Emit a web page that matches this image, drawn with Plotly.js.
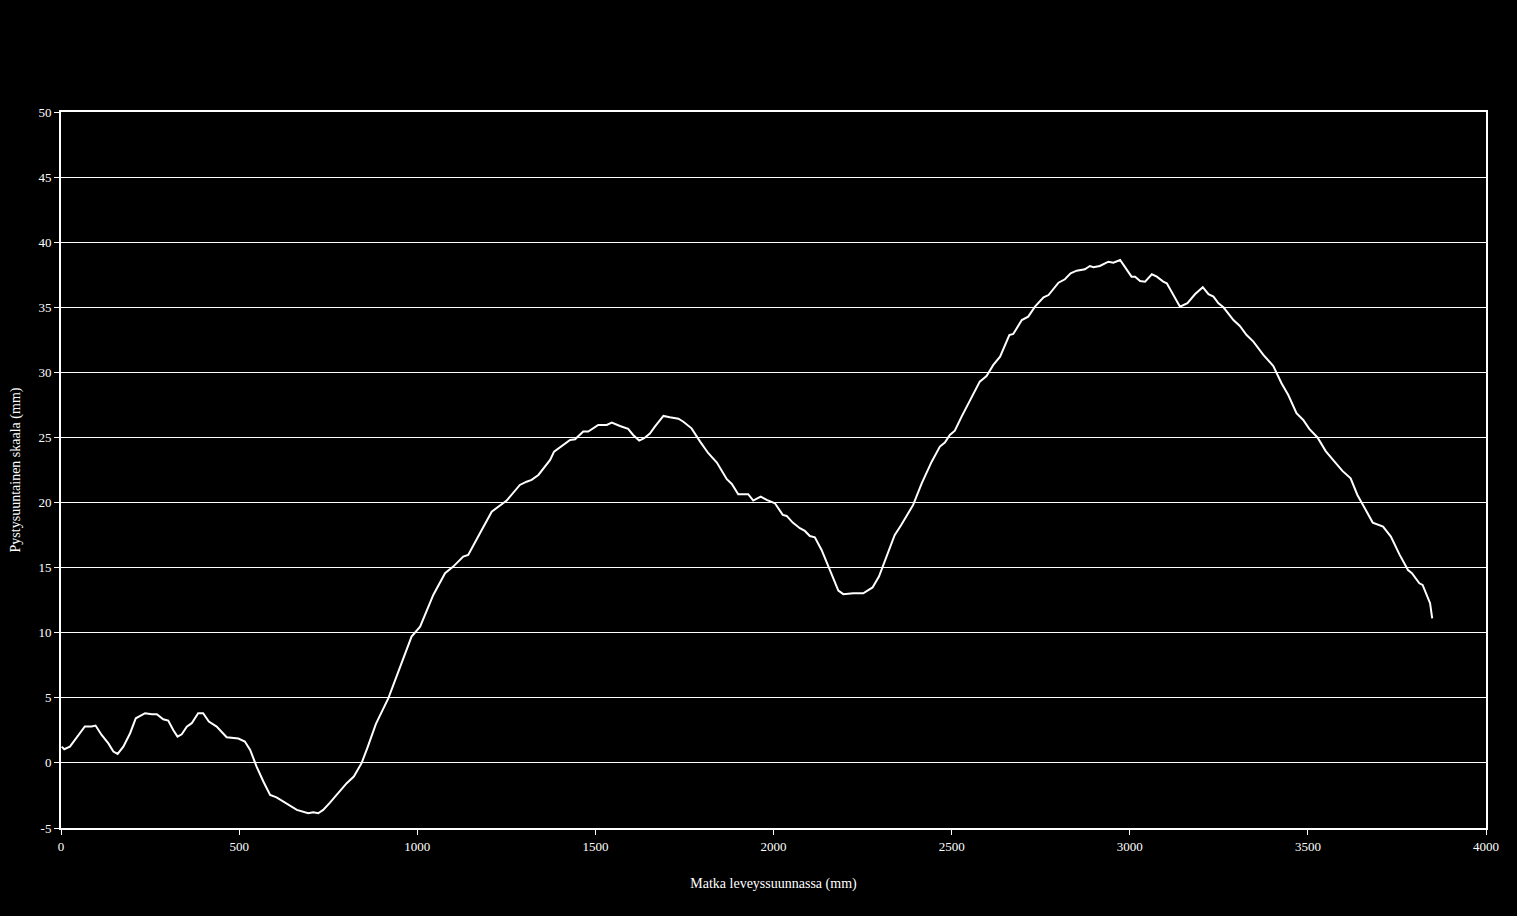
<!DOCTYPE html>
<html>
<head>
<meta charset="utf-8">
<script src="https://cdn.plot.ly/plotly-3.0.1.min.js"></script>
<style>html,body{margin:0;padding:0;background:#000;}#chart{width:1517px;height:916px;}</style>
</head>
<body>
<div id="chart"></div>
<script>
const distanceMm = [2,9,25,49,67,86,97,114,133,147,159,175,194,210,236,255,269,287,301,315,327,339,353,367,385,399,415,437,465,498,516,531,549,568,587,605,638,662,694,708,722,736,755,783,802,822,844,860,884,919,952,984,1008,1045,1078,1101,1129,1143,1176,1209,1251,1288,1307,1321,1340,1373,1384,1405,1429,1443,1466,1480,1508,1532,1546,1569,1592,1606,1623,1637,1653,1667,1691,1709,1733,1747,1770,1794,1817,1841,1869,1883,1901,1929,1943,1964,1981,2004,2026,2037,2054,2074,2088,2102,2116,2135,2159,2182,2196,2224,2252,2264,2278,2296,2320,2340,2358,2392,2416,2444,2467,2481,2495,2509,2528,2552,2579,2598,2617,2636,2662,2673,2697,2715,2734,2758,2772,2800,2818,2834,2851,2874,2888,2898,2916,2940,2954,2973,2991,3005,3015,3029,3043,3062,3076,3094,3104,3122,3141,3162,3183,3205,3221,3235,3249,3263,3291,3309,3328,3347,3375,3403,3412,3426,3445,3468,3487,3504,3527,3550,3573,3597,3620,3639,3657,3682,3711,3733,3757,3781,3792,3813,3822,3831,3843,3849];
const heightMm = [1.25,1.05,1.25,2.15,2.8,2.8,2.87,2.15,1.5,0.87,0.69,1.25,2.28,3.43,3.82,3.74,3.74,3.35,3.25,2.53,2.02,2.2,2.79,3.05,3.82,3.82,3.17,2.79,1.97,1.87,1.64,1.0,-0.28,-1.43,-2.46,-2.64,-3.23,-3.61,-3.87,-3.79,-3.87,-3.61,-3.05,-2.2,-1.56,-1.05,0.0,1.15,3.0,4.97,7.4,9.7,10.47,12.9,14.57,15.08,15.85,15.97,17.64,19.3,20.15,21.35,21.6,21.74,22.12,23.27,23.91,24.3,24.8,24.86,25.45,25.45,25.96,25.96,26.14,25.88,25.66,25.19,24.76,24.94,25.3,25.83,26.65,26.55,26.44,26.21,25.7,24.68,23.79,23.07,21.79,21.43,20.64,20.64,20.15,20.46,20.2,19.95,19.05,18.97,18.46,18.03,17.82,17.43,17.33,16.36,14.82,13.23,12.96,13.03,13.03,13.23,13.48,14.31,16.1,17.5,18.25,19.82,21.48,23.14,24.3,24.6,25.19,25.52,26.6,27.88,29.29,29.72,30.57,31.21,32.87,32.95,34.02,34.28,35.05,35.77,35.94,36.89,37.15,37.61,37.81,37.92,38.17,38.07,38.17,38.5,38.43,38.63,37.87,37.35,37.35,37.02,36.97,37.53,37.35,36.97,36.84,35.94,35.05,35.31,36.0,36.54,36.0,35.82,35.31,35.0,34.02,33.56,32.87,32.36,31.34,30.49,30.0,29.16,28.26,26.86,26.34,25.66,25.0,23.95,23.2,22.43,21.86,20.58,19.7,18.46,18.15,17.38,16.02,14.82,14.57,13.8,13.67,13.03,12.27,11.11];

const xTicks = [0,500,1000,1500,2000,2500,3000,3500,4000];
const yTicks = [-5,0,5,10,15,20,25,30,35,40,45,50];

const fontFamily = '"Liberation Serif", "Times New Roman", serif';

Plotly.newPlot('chart', [{
  x: distanceMm,
  y: heightMm,
  type: 'scatter',
  mode: 'lines',
  line: {color: '#ffffff', width: 2},
  hoverinfo: 'skip'
}], {
  width: 1517,
  height: 916,
  paper_bgcolor: '#000000',
  plot_bgcolor: '#000000',
  showlegend: false,
  margin: {l: 61, r: 31, t: 112, b: 88, pad: 0},
  font: {family: fontFamily, color: '#ffffff', size: 13},
  xaxis: {
    range: [0, 4000],
    tickvals: xTicks,
    ticktext: xTicks.map(String),
    showgrid: false,
    zeroline: false,
    showline: true,
    linecolor: '#ffffff',
    linewidth: 2,
    mirror: true,
    ticks: 'outside',
    ticklen: 5,
    tickcolor: '#ffffff',
    tickfont: {family: fontFamily, size: 13, color: '#ffffff'},
    title: {text: 'Matka leveyssuunnassa (mm)', font: {family: fontFamily, size: 14, color: '#ffffff'}, standoff: 26},
    automargin: false
  },
  yaxis: {
    range: [-5, 50],
    tickvals: yTicks,
    ticktext: yTicks.map(String),
    showgrid: true,
    gridcolor: '#ffffff',
    gridwidth: 1,
    zeroline: false,
    showline: true,
    linecolor: '#ffffff',
    linewidth: 2,
    mirror: true,
    ticks: 'outside',
    ticklen: 5,
    tickcolor: '#ffffff',
    tickfont: {family: fontFamily, size: 13, color: '#ffffff'},
    title: {text: 'Pystysuuntainen skaala (mm)', font: {family: fontFamily, size: 14, color: '#ffffff'}, standoff: 15},
    automargin: false
  }
}, {displayModeBar: false, staticPlot: true});
</script>
</body>
</html>
